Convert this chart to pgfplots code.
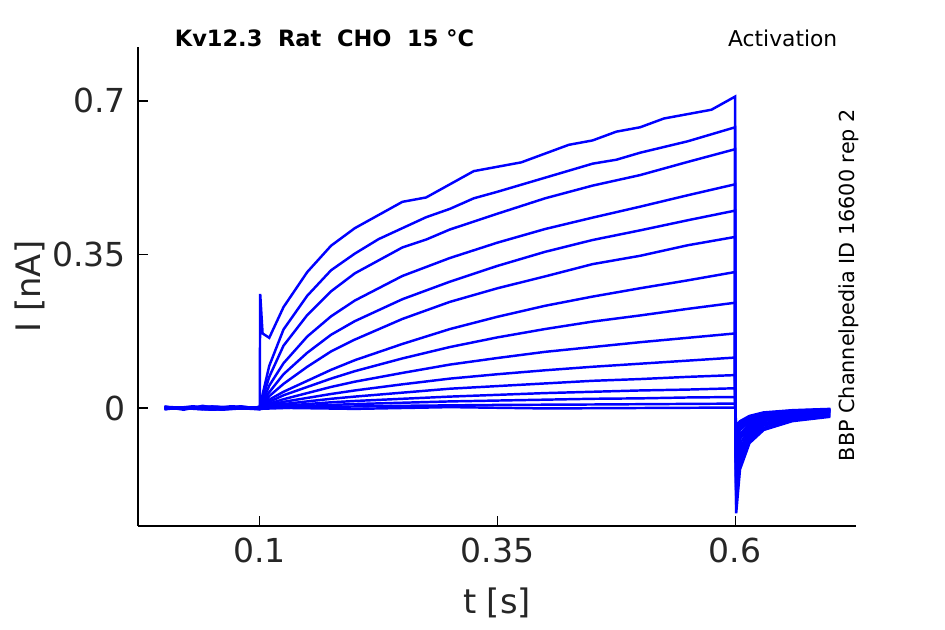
\documentclass[border=0pt]{standalone}
\usepackage{pgfplots}
\pgfplotsset{compat=1.18}
\usepackage{fontspec}
\setmainfont{DejaVu Sans}
\definecolor{tk}{HTML}{262626}
\begin{document}
\begin{tikzpicture}
\begin{axis}[
  scale only axis, width=7.18cm, height=4.79cm,
  xmin=-0.028, xmax=0.727, ymin=-0.269, ymax=0.823,
  axis x line*=bottom, axis y line*=left,
  axis line style={black, line width=0.4pt},
  tick align=inside, tick style={black, line width=0.4pt}, major tick length=0.1cm,
  xtick={0.1,0.35,0.6}, ytick={0,0.35,0.7},
  xticklabels={0.1,0.35,0.6}, yticklabels={0,0.35,0.7},
  ticklabel style={font=\fontsize{9.4}{10}\selectfont, text=tk},
  /pgf/number format/assume math mode=true,
  xlabel={t [s]}, ylabel={I [nA]},
  label style={font=\fontsize{9.6}{11}\selectfont, text=tk},
  xlabel style={at={(axis description cs:0.5,0)}, anchor=center, yshift=-0.77cm},
  ylabel style={at={(axis description cs:-0.15,0.5)}, anchor=center},
  every axis plot post/.append style={blue, solid, line width=0.7pt, mark=none},
  clip=false,
]
\addplot coordinates {(0,0.003)(0.02,-0.004)(0.04,0.005)(0.06,-0.003)(0.08,0.004)(0.0999,-0.002)(0.1,0)(0.1005,0.26)(0.103,0.17)(0.11,0.16)(0.125,0.23)(0.15,0.31)(0.175,0.37)(0.2,0.41)(0.225,0.44)(0.25,0.47)(0.275,0.48)(0.3,0.51)(0.325,0.54)(0.35,0.55)(0.375,0.56)(0.4,0.58)(0.425,0.60)(0.45,0.61)(0.475,0.63)(0.5,0.64)(0.525,0.66)(0.55,0.67)(0.575,0.68)(0.5999,0.71)(0.6,0.0)(0.601,-0.24)(0.605,-0.14)(0.615,-0.08)(0.63,-0.05)(0.66,-0.03)(0.7,-0.02)};
\addplot coordinates {(0,-0.003)(0.03,0.004)(0.06,-0.004)(0.0999,0.002)(0.11,0.096)(0.125,0.179)(0.15,0.256)(0.175,0.314)(0.2,0.352)(0.225,0.385)(0.25,0.41)(0.275,0.435)(0.3,0.454)(0.325,0.478)(0.35,0.493)(0.4,0.525)(0.45,0.557)(0.475,0.566)(0.5,0.582)(0.55,0.608)(0.5999,0.64)(0.6,0.0)(0.601,-0.22)(0.605,-0.13)(0.615,-0.075)(0.63,-0.045)(0.66,-0.028)(0.7,-0.018)};
\addplot coordinates {(0,0.002)(0.04,-0.003)(0.07,0.004)(0.0999,0)(0.11,0.071)(0.125,0.142)(0.15,0.212)(0.175,0.266)(0.2,0.307)(0.25,0.366)(0.275,0.384)(0.3,0.407)(0.35,0.443)(0.4,0.478)(0.45,0.507)(0.5,0.531)(0.55,0.561)(0.5999,0.59)(0.6,0.0)(0.601,-0.20)(0.605,-0.12)(0.615,-0.07)(0.63,-0.04)(0.66,-0.025)(0.7,-0.016)};
\addplot coordinates {(0,-0.002)(0.05,0.003)(0.0999,-0.003)(0.11,0.051)(0.125,0.102)(0.15,0.163)(0.175,0.209)(0.2,0.245)(0.25,0.301)(0.3,0.342)(0.35,0.377)(0.4,0.408)(0.45,0.434)(0.5,0.459)(0.55,0.485)(0.5999,0.51)(0.6,0.0)(0.601,-0.18)(0.605,-0.11)(0.615,-0.065)(0.63,-0.038)(0.66,-0.022)(0.7,-0.014)};
\addplot coordinates {(0,0.003)(0.05,-0.004)(0.0999,0.002)(0.11,0.036)(0.125,0.077)(0.15,0.126)(0.175,0.167)(0.2,0.198)(0.25,0.248)(0.3,0.288)(0.35,0.324)(0.4,0.356)(0.45,0.383)(0.5,0.405)(0.55,0.428)(0.5999,0.45)(0.6,0.0)(0.601,-0.16)(0.605,-0.10)(0.615,-0.06)(0.63,-0.035)(0.66,-0.02)(0.7,-0.012)};
\addplot coordinates {(0,-0.001)(0.05,0.003)(0.0999,-0.002)(0.11,0.027)(0.125,0.055)(0.15,0.094)(0.175,0.129)(0.2,0.156)(0.25,0.203)(0.3,0.242)(0.35,0.273)(0.4,0.30)(0.45,0.328)(0.5,0.347)(0.55,0.371)(0.5999,0.39)(0.6,0.0)(0.601,-0.14)(0.605,-0.09)(0.615,-0.055)(0.63,-0.03)(0.66,-0.018)(0.7,-0.01)};
\addplot coordinates {(0,0.002)(0.05,-0.002)(0.0999,0.001)(0.11,0.019)(0.125,0.037)(0.15,0.062)(0.175,0.087)(0.2,0.109)(0.25,0.146)(0.3,0.18)(0.35,0.208)(0.4,0.233)(0.45,0.254)(0.5,0.273)(0.55,0.291)(0.5999,0.31)(0.6,0.0)(0.601,-0.12)(0.605,-0.08)(0.615,-0.05)(0.63,-0.028)(0.66,-0.016)(0.7,-0.009)};
\addplot coordinates {(0,-0.002)(0.05,0.002)(0.0999,-0.001)(0.11,0.014)(0.125,0.029)(0.15,0.048)(0.175,0.067)(0.2,0.084)(0.25,0.113)(0.3,0.139)(0.35,0.161)(0.4,0.18)(0.45,0.197)(0.5,0.211)(0.55,0.226)(0.5999,0.24)(0.6,0.0)(0.601,-0.11)(0.605,-0.07)(0.615,-0.045)(0.63,-0.025)(0.66,-0.014)(0.7,-0.008)};
\addplot coordinates {(0,0.001)(0.05,-0.003)(0.0999,0.002)(0.11,0.010)(0.125,0.020)(0.15,0.034)(0.175,0.048)(0.2,0.060)(0.25,0.080)(0.3,0.099)(0.35,0.114)(0.4,0.128)(0.45,0.139)(0.5,0.150)(0.55,0.160)(0.5999,0.17)(0.6,0.0)(0.601,-0.10)(0.605,-0.065)(0.615,-0.04)(0.63,-0.022)(0.66,-0.012)(0.7,-0.007)};
\addplot coordinates {(0,-0.001)(0.05,0.002)(0.0999,0)(0.11,0.007)(0.125,0.014)(0.15,0.023)(0.175,0.032)(0.2,0.040)(0.25,0.054)(0.3,0.067)(0.35,0.077)(0.4,0.086)(0.45,0.094)(0.5,0.101)(0.55,0.108)(0.5999,0.115)(0.6,0.0)(0.601,-0.09)(0.605,-0.06)(0.615,-0.035)(0.63,-0.02)(0.66,-0.01)(0.7,-0.006)};
\addplot coordinates {(0,0.002)(0.05,-0.002)(0.0999,0.001)(0.11,0.005)(0.125,0.009)(0.15,0.015)(0.175,0.021)(0.2,0.026)(0.25,0.035)(0.3,0.044)(0.35,0.05)(0.4,0.056)(0.45,0.062)(0.5,0.066)(0.55,0.071)(0.5999,0.075)(0.6,0.0)(0.601,-0.08)(0.605,-0.05)(0.615,-0.03)(0.63,-0.018)(0.66,-0.009)(0.7,-0.005)};
\addplot coordinates {(0,-0.002)(0.05,0.003)(0.0999,-0.001)(0.11,0.003)(0.125,0.005)(0.15,0.009)(0.175,0.013)(0.2,0.016)(0.25,0.021)(0.3,0.026)(0.35,0.03)(0.4,0.034)(0.45,0.037)(0.5,0.04)(0.55,0.042)(0.5999,0.045)(0.6,0.0)(0.601,-0.07)(0.605,-0.045)(0.615,-0.028)(0.63,-0.016)(0.66,-0.008)(0.7,-0.004)};
\addplot coordinates {(0,0.001)(0.05,-0.002)(0.0999,0.002)(0.11,0.002)(0.15,0.005)(0.2,0.009)(0.25,0.012)(0.3,0.015)(0.35,0.017)(0.4,0.019)(0.45,0.021)(0.5,0.022)(0.55,0.024)(0.5999,0.025)(0.6,0.0)(0.601,-0.06)(0.605,-0.04)(0.615,-0.025)(0.63,-0.014)(0.66,-0.007)(0.7,-0.004)};
\addplot coordinates {(0,-0.001)(0.05,0.002)(0.0999,-0.002)(0.15,0.002)(0.25,0.005)(0.35,0.007)(0.45,0.008)(0.5999,0.01)(0.6,0.0)(0.601,-0.05)(0.605,-0.035)(0.615,-0.02)(0.63,-0.012)(0.66,-0.006)(0.7,-0.003)};
\addplot coordinates {(0,0.002)(0.05,-0.003)(0.0999,0.001)(0.2,-0.002)(0.3,0.002)(0.4,-0.001)(0.5999,0.001)(0.6,0.0)(0.601,-0.04)(0.605,-0.03)(0.615,-0.018)(0.63,-0.01)(0.66,-0.005)(0.7,-0.002)};
\node[anchor=base west, inner sep=0pt, font=\bfseries\fontsize{6.4}{7}\selectfont] at (axis cs:0.010,0.825) {Kv12.3\ \ Rat\ \ CHO\ \ 15 °C};
\node[anchor=base east, inner sep=0pt, font=\fontsize{6.2}{7}\selectfont] at (axis cs:0.708,0.825) {Activation};
\node[rotate=90, anchor=center, font=\fontsize{5.9}{7}\selectfont] at (axis cs:0.719,0.28) {BBP Channelpedia ID 16600 rep 2};
\end{axis}
\useasboundingbox (-1.38cm,-0.98cm) rectangle (8.07cm,5.26cm);
\end{tikzpicture}
\end{document}
